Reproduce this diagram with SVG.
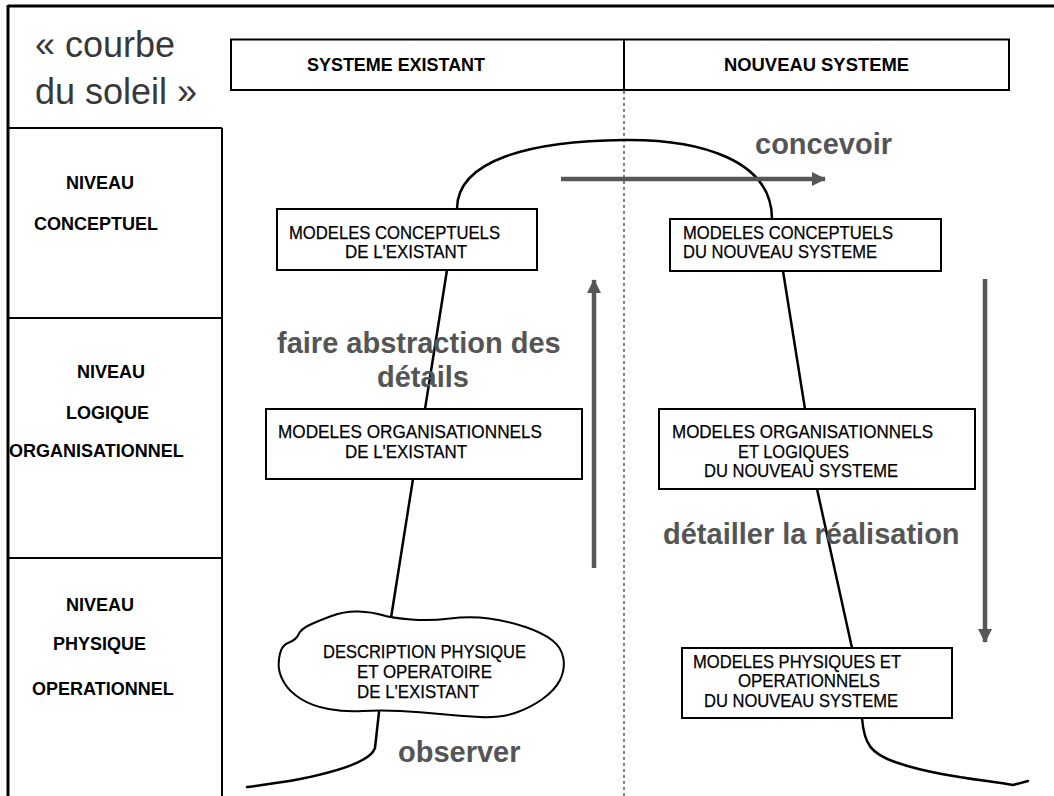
<svg xmlns="http://www.w3.org/2000/svg" width="1054" height="796" viewBox="0 0 1054 796">
  <defs>
    <style>
      .frame { fill: none; stroke: #000; stroke-width: 2; }
      .thick { fill: none; stroke: #000; stroke-width: 3; }
      .box { fill: #fff; stroke: #000; stroke-width: 2; }
      .curve { fill: none; stroke: #000; stroke-width: 2.5; stroke-linecap: round; }
      .guide { fill: none; stroke: #000; stroke-width: 1; stroke-dasharray: 3 3; }
      .flow { fill: none; stroke: #575757; stroke-width: 4.5; }
      .title { font-family: "Liberation Sans", Arial, sans-serif; font-size: 36px; fill: #383838; }
      .head { font-family: "Liberation Sans", Arial, sans-serif; font-size: 19px; font-weight: bold; fill: #000; }
      .level { font-family: "Liberation Sans", Arial, sans-serif; font-size: 18px; font-weight: bold; fill: #000; }
      .lbl { font-family: "Liberation Sans", Arial, sans-serif; font-size: 18px; fill: #000; stroke: #000; stroke-width: 0.25; }
      .verb { font-family: "Liberation Sans", Arial, sans-serif; font-size: 29px; font-weight: bold; fill: #555; }
    </style>
    <marker id="tip" viewBox="0 0 14 14" refX="13" refY="7" markerWidth="14" markerHeight="14" markerUnits="userSpaceOnUse" orient="auto">
      <path d="M0,0 L14,7 L0,14 Z" fill="#575757"/>
    </marker>
  </defs>
  <rect width="1054" height="796" fill="#fff"/>

  <!-- outer frame and side columns -->
  <g id="frame">
    <line class="thick" x1="8" y1="6" x2="1054" y2="6"/>
    <line class="thick" x1="8" y1="5" x2="8" y2="796"/>
    <line class="frame" x1="8" y1="128" x2="222" y2="128"/>
    <line class="frame" x1="222" y1="128" x2="222" y2="796"/>
    <line class="frame" x1="8" y1="318" x2="222" y2="318"/>
    <line class="frame" x1="8" y1="558" x2="222" y2="558"/>
    <line class="guide" x1="624" y1="91" x2="624" y2="796"/>
  </g>

  <g id="title">
    <text class="title" x="35" y="57">« courbe</text>
    <text class="title" x="35" y="104">du soleil »</text>
  </g>

  <g id="header">
    <rect class="box" x="231" y="39.5" width="778" height="50.5"/>
    <line class="frame" x1="624" y1="39.5" x2="624" y2="90"/>
    <text class="head" x="307" y="71" textLength="178" lengthAdjust="spacingAndGlyphs">SYSTEME  EXISTANT</text>
    <text class="head" x="724" y="71" textLength="185" lengthAdjust="spacingAndGlyphs">NOUVEAU  SYSTEME</text>
  </g>

  <g id="levels">
    <text class="level" x="66" y="189">NIVEAU</text>
    <text class="level" x="34" y="230">CONCEPTUEL</text>
    <text class="level" x="77" y="378">NIVEAU</text>
    <text class="level" x="66" y="419">LOGIQUE</text>
    <text class="level" x="9" y="457">ORGANISATIONNEL</text>
    <text class="level" x="66" y="611">NIVEAU</text>
    <text class="level" x="53" y="650">PHYSIQUE</text>
    <text class="level" x="32" y="695">OPERATIONNEL</text>
  </g>

  <!-- sun curve and process arrows -->
  <g id="connectors">
    <path class="curve" d="M457,209 C457,160 530,141 624,140 C700,139 772,160 772,219"/>
    <line class="curve" x1="447" y1="270" x2="425" y2="409"/>
    <line class="curve" x1="413" y1="479" x2="391" y2="618"/>
    <path class="curve" d="M379,712 L375,748 C371,760 345,770 300,779 C280,783 262,785 247,787"/>
    <line class="curve" x1="783" y1="271" x2="805" y2="409"/>
    <line class="curve" x1="817" y1="489" x2="852" y2="648"/>
    <path class="curve" d="M862,718 C864,745 872,754 895,762 C935,776 985,780 1013,785 L1028,781"/>
    <line class="flow" x1="594" y1="568" x2="594" y2="280" marker-end="url(#tip)"/>
    <line class="flow" x1="561" y1="179" x2="825" y2="179" marker-end="url(#tip)"/>
    <line class="flow" x1="985" y1="279" x2="985" y2="642" marker-end="url(#tip)"/>
  </g>

  <g id="verbs">
    <text class="verb" x="755" y="154">concevoir</text>
    <text class="verb" x="277" y="353">faire abstraction des</text>
    <text class="verb" x="377" y="387">détails</text>
    <text class="verb" x="663" y="544">détailler la réalisation</text>
    <text class="verb" x="398" y="762">observer</text>
  </g>

  <g id="mc-existant">
    <rect class="box" x="277" y="209" width="260" height="61"/>
    <text class="lbl" x="289" y="239" textLength="211" lengthAdjust="spacingAndGlyphs">MODELES CONCEPTUELS</text>
    <text class="lbl" x="345" y="258" textLength="122" lengthAdjust="spacingAndGlyphs">DE L'EXISTANT</text>
  </g>

  <g id="mc-nouveau">
    <rect class="box" x="670" y="219" width="271" height="52"/>
    <text class="lbl" x="683" y="239" textLength="210" lengthAdjust="spacingAndGlyphs">MODELES CONCEPTUELS</text>
    <text class="lbl" x="683" y="258" textLength="194" lengthAdjust="spacingAndGlyphs">DU NOUVEAU SYSTEME</text>
  </g>

  <g id="mo-existant">
    <rect class="box" x="266" y="409" width="316" height="70"/>
    <text class="lbl" x="278" y="438" textLength="264" lengthAdjust="spacingAndGlyphs">MODELES  ORGANISATIONNELS</text>
    <text class="lbl" x="345" y="458" textLength="122" lengthAdjust="spacingAndGlyphs">DE L'EXISTANT</text>
  </g>

  <g id="mol-nouveau">
    <rect class="box" x="659" y="409" width="316" height="80"/>
    <text class="lbl" x="672" y="438" textLength="261" lengthAdjust="spacingAndGlyphs">MODELES  ORGANISATIONNELS</text>
    <text class="lbl" x="738" y="458" textLength="111" lengthAdjust="spacingAndGlyphs">ET LOGIQUES</text>
    <text class="lbl" x="704" y="477" textLength="194" lengthAdjust="spacingAndGlyphs">DU NOUVEAU SYSTEME</text>
  </g>

  <g id="description-existant">
    <path class="box" d="M279,669 Q278,662 280,653.5 Q282,645 289,642.5 Q296,640 298.5,634.5 Q301,629 309.5,625 Q318,621 331.5,616 Q345,611 358.5,611.5 Q372,612 382,615 Q392,618 411,619.5 Q430,621 450,618.5 Q470,616 489,618.5 Q508,621 525.5,627 Q543,633 552.5,640.5 Q562,648 563.5,659 Q565,670 560,680 Q555,690 542.5,699 Q530,708 515,713 Q500,718 480,717 Q460,716 440,714 Q420,712 400,711 Q380,710 362.5,711 Q345,712 328.5,709 Q312,706 301,699 Q290,692 285,684 Q280,676 279,669 Z"/>
    <text class="lbl" x="323" y="658" textLength="203" lengthAdjust="spacingAndGlyphs">DESCRIPTION PHYSIQUE</text>
    <text class="lbl" x="357" y="678" textLength="135" lengthAdjust="spacingAndGlyphs">ET OPERATOIRE</text>
    <text class="lbl" x="357" y="698" textLength="122" lengthAdjust="spacingAndGlyphs">DE L'EXISTANT</text>
  </g>

  <g id="mpo-nouveau">
    <rect class="box" x="682" y="648" width="270" height="70"/>
    <text class="lbl" x="693" y="668" textLength="208" lengthAdjust="spacingAndGlyphs">MODELES PHYSIQUES ET</text>
    <text class="lbl" x="738" y="687" textLength="142" lengthAdjust="spacingAndGlyphs">OPERATIONNELS</text>
    <text class="lbl" x="704" y="707" textLength="194" lengthAdjust="spacingAndGlyphs">DU NOUVEAU SYSTEME</text>
  </g>
</svg>
